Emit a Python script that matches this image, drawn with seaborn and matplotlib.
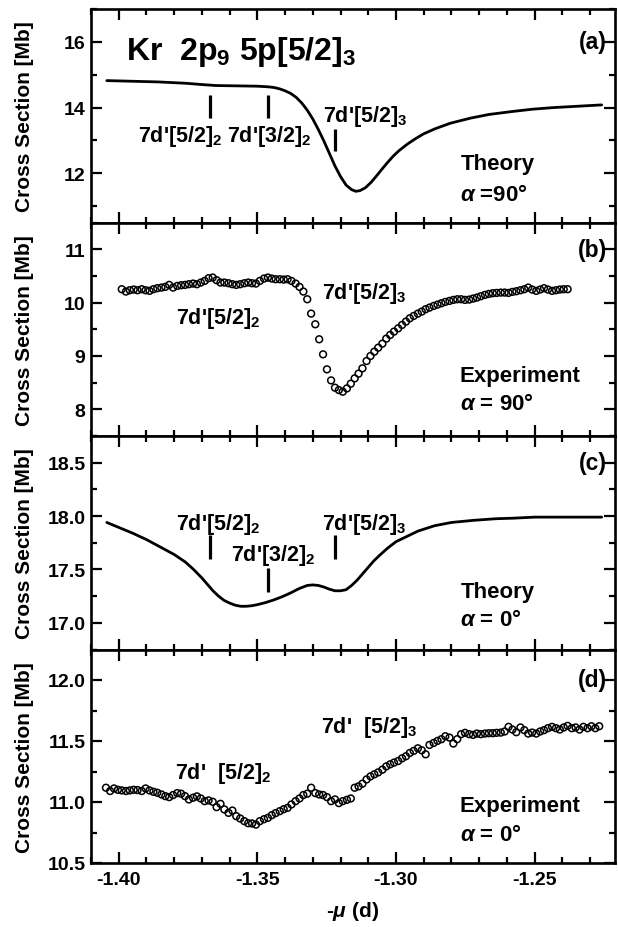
import matplotlib
matplotlib.use("Agg")
import matplotlib.pyplot as plt
from matplotlib.ticker import MultipleLocator
import seaborn as sns
import pandas as pd

# ---------------- data ----------------
# Theory, alpha = 90 deg (panel a)
x_a = [-1.4043, -1.3950, -1.3858, -1.3760, -1.3700, -1.3650, -1.3573, -1.3500, -1.3460,
       -1.3440, -1.3420, -1.3400, -1.3380, -1.3360, -1.3340, -1.3320, -1.3300, -1.3280,
       -1.3260, -1.3240, -1.3220, -1.3200, -1.3180, -1.3160, -1.3145, -1.3130, -1.3110,
       -1.3090, -1.3070, -1.3050, -1.3030, -1.3010, -1.2990, -1.2960, -1.2930, -1.2900,
       -1.2860, -1.2805, -1.2730, -1.2664, -1.2580, -1.2507, -1.2430, -1.2365, -1.2258]
y_a = [14.82, 14.80, 14.78, 14.74, 14.70, 14.67, 14.66, 14.65, 14.63,
       14.61, 14.57, 14.51, 14.43, 14.31, 14.14, 13.92, 13.65, 13.33,
       12.98, 12.60, 12.22, 11.90, 11.64, 11.50, 11.45, 11.47, 11.56,
       11.72, 11.92, 12.13, 12.33, 12.52, 12.68, 12.88, 13.05, 13.20,
       13.35, 13.52, 13.68, 13.79, 13.88, 13.95, 14.00, 14.03, 14.08]

# Theory, alpha = 0 deg (panel c)
x_c = [-1.4043, -1.3950, -1.3900, -1.3850, -1.3800, -1.3760, -1.3730, -1.3700, -1.3680,
       -1.3660, -1.3640, -1.3620, -1.3600, -1.3580, -1.3560, -1.3540, -1.3520, -1.3500,
       -1.3470, -1.3440, -1.3410, -1.3380, -1.3350, -1.3320, -1.3300, -1.3280, -1.3260,
       -1.3240, -1.3220, -1.3200, -1.3180, -1.3160, -1.3140, -1.3120, -1.3100, -1.3080,
       -1.3060, -1.3030, -1.3000, -1.2960, -1.2920, -1.2860, -1.2800, -1.2720, -1.2640,
       -1.2578, -1.2500, -1.2436, -1.2258]
y_c = [17.94, 17.84, 17.78, 17.71, 17.64, 17.57, 17.50, 17.42, 17.36,
       17.30, 17.25, 17.21, 17.185, 17.165, 17.155, 17.155, 17.16, 17.17,
       17.19, 17.215, 17.245, 17.28, 17.32, 17.35, 17.355, 17.35, 17.335,
       17.315, 17.30, 17.30, 17.31, 17.35, 17.40, 17.46, 17.52, 17.58,
       17.63, 17.70, 17.76, 17.81, 17.86, 17.91, 17.94, 17.96, 17.975,
       17.98, 17.99, 17.99, 17.99]

# Experiment, alpha = 90 deg (panel b)
x_b = [-1.3989, -1.3974, -1.3960, -1.3946, -1.3932, -1.3917, -1.3903, -1.3889, -1.3875, -1.3861,
       -1.3846, -1.3832, -1.3818, -1.3804, -1.3789, -1.3775, -1.3761, -1.3747, -1.3732, -1.3718,
       -1.3704, -1.3690, -1.3676, -1.3661, -1.3647, -1.3633, -1.3619, -1.3604, -1.3590, -1.3576,
       -1.3562, -1.3547, -1.3533, -1.3519, -1.3505, -1.3491, -1.3476, -1.3462, -1.3448, -1.3434,
       -1.3419, -1.3405, -1.3391, -1.3377, -1.3362, -1.3348, -1.3334, -1.3320, -1.3306, -1.3291,
       -1.3277, -1.3263, -1.3249, -1.3234, -1.3220, -1.3206, -1.3192, -1.3177, -1.3163, -1.3149,
       -1.3135, -1.3121, -1.3106, -1.3092, -1.3078, -1.3064, -1.3049, -1.3035, -1.3021, -1.3007,
       -1.2992, -1.2978, -1.2964, -1.2950, -1.2936, -1.2921, -1.2907, -1.2893, -1.2879, -1.2864,
       -1.2850, -1.2836, -1.2822, -1.2807, -1.2793, -1.2779, -1.2765, -1.2751, -1.2736, -1.2722,
       -1.2708, -1.2694, -1.2679, -1.2665, -1.2651, -1.2637, -1.2622, -1.2608, -1.2594, -1.2580,
       -1.2566, -1.2551, -1.2537, -1.2523, -1.2509, -1.2494, -1.2480, -1.2466, -1.2452, -1.2437,
       -1.2423, -1.2409, -1.2395, -1.2381]
y_b = [10.250, 10.206, 10.231, 10.244, 10.231, 10.250, 10.231, 10.219, 10.250, 10.269,
       10.281, 10.294, 10.331, 10.281, 10.312, 10.325, 10.331, 10.344, 10.356, 10.344,
       10.375, 10.406, 10.456, 10.469, 10.419, 10.375, 10.375, 10.362, 10.344, 10.331,
       10.344, 10.362, 10.375, 10.362, 10.356, 10.406, 10.450, 10.469, 10.450, 10.437,
       10.437, 10.431, 10.437, 10.406, 10.356, 10.294, 10.206, 10.062, 9.793, 9.593,
       9.312, 9.030, 8.749, 8.542, 8.405, 8.361, 8.330, 8.392, 8.480, 8.580,
       8.668, 8.768, 8.905, 8.999, 9.080, 9.155, 9.230, 9.324, 9.393, 9.456,
       9.518, 9.581, 9.643, 9.706, 9.750, 9.793, 9.831, 9.875, 9.906, 9.937,
       9.962, 9.987, 10.012, 10.031, 10.050, 10.062, 10.062, 10.050, 10.056, 10.075,
       10.094, 10.119, 10.144, 10.162, 10.175, 10.181, 10.187, 10.187, 10.181, 10.200,
       10.212, 10.231, 10.250, 10.281, 10.244, 10.219, 10.244, 10.269, 10.244, 10.219,
       10.231, 10.244, 10.250, 10.250]

# Experiment, alpha = 0 deg (panel d)
x_d = [-1.4046, -1.4031, -1.4017, -1.4003, -1.3989, -1.3974, -1.3960, -1.3946, -1.3932, -1.3917,
       -1.3903, -1.3889, -1.3875, -1.3861, -1.3846, -1.3832, -1.3818, -1.3804, -1.3789, -1.3775,
       -1.3761, -1.3747, -1.3732, -1.3718, -1.3704, -1.3690, -1.3676, -1.3661, -1.3647, -1.3633,
       -1.3619, -1.3604, -1.3590, -1.3576, -1.3562, -1.3547, -1.3533, -1.3519, -1.3505, -1.3491,
       -1.3476, -1.3462, -1.3448, -1.3434, -1.3419, -1.3405, -1.3391, -1.3377, -1.3362, -1.3348,
       -1.3334, -1.3320, -1.3306, -1.3291, -1.3277, -1.3263, -1.3249, -1.3234, -1.3220, -1.3206,
       -1.3192, -1.3177, -1.3163, -1.3149, -1.3135, -1.3121, -1.3106, -1.3092, -1.3078, -1.3064,
       -1.3049, -1.3035, -1.3021, -1.3007, -1.2992, -1.2978, -1.2964, -1.2950, -1.2936, -1.2921,
       -1.2907, -1.2893, -1.2879, -1.2864, -1.2850, -1.2836, -1.2822, -1.2807, -1.2793, -1.2779,
       -1.2765, -1.2751, -1.2736, -1.2722, -1.2708, -1.2694, -1.2679, -1.2665, -1.2651, -1.2637,
       -1.2622, -1.2608, -1.2594, -1.2580, -1.2566, -1.2551, -1.2537, -1.2523, -1.2509, -1.2494,
       -1.2480, -1.2466, -1.2452, -1.2437, -1.2423, -1.2409, -1.2395, -1.2381, -1.2366, -1.2352,
       -1.2338, -1.2324, -1.2309, -1.2295, -1.2281, -1.2267]
y_d = [11.117, 11.090, 11.111, 11.100, 11.095, 11.090, 11.095, 11.100, 11.098, 11.090,
       11.111, 11.095, 11.084, 11.076, 11.062, 11.048, 11.040, 11.057, 11.073, 11.068,
       11.048, 11.021, 11.035, 11.046, 11.029, 11.007, 11.013, 11.002, 10.958, 10.985,
       10.939, 10.911, 10.930, 10.884, 10.865, 10.843, 10.826, 10.824, 10.815, 10.843,
       10.859, 10.870, 10.892, 10.909, 10.925, 10.941, 10.952, 10.980, 11.007, 11.029,
       11.057, 11.068, 11.117, 11.073, 11.062, 11.057, 11.040, 11.007, 11.021, 10.991,
       11.007, 11.018, 11.029, 11.117, 11.128, 11.150, 11.185, 11.210, 11.227, 11.243,
       11.265, 11.292, 11.309, 11.323, 11.336, 11.358, 11.375, 11.402, 11.419, 11.440,
       11.424, 11.391, 11.468, 11.484, 11.501, 11.515, 11.539, 11.528, 11.479, 11.515,
       11.556, 11.567, 11.556, 11.550, 11.561, 11.556, 11.561, 11.564, 11.564, 11.567,
       11.569, 11.578, 11.616, 11.594, 11.572, 11.611, 11.589, 11.561, 11.569, 11.561,
       11.578, 11.589, 11.605, 11.616, 11.605, 11.594, 11.611, 11.624, 11.605, 11.611,
       11.594, 11.616, 11.605, 11.621, 11.605, 11.621]

# resonance marker bars (position, low, high)
bars_a_x = [-1.3669, -1.3462, -1.3221]
bars_a_lo = [13.68, 13.68, 12.68]
bars_a_hi = [14.37, 14.37, 13.35]
bars_c_x = [-1.3669, -1.3462, -1.3221]
bars_c_lo = [17.60, 17.29, 17.60]
bars_c_hi = [17.82, 17.51, 17.82]

panel_tags = ["(a)", "(b)", "(c)", "(d)"]
ylims = [(10.5, 17.0), (7.5, 11.5), (16.75, 18.75), (10.5, 12.25)]
ymajor = [2.0, 1.0, 0.5, 0.5]
yminor = [1.0, 0.5, 0.25, 0.25]
tag_y = [16.0, 11.0, 18.5, 12.0]

# ---------------- style ----------------
sns.set_style("ticks")
plt.rcParams["font.family"] = ["Liberation Sans", "DejaVu Sans"]
plt.rcParams["font.weight"] = "bold"
plt.rcParams["axes.labelweight"] = "bold"
plt.rcParams["text.color"] = "black"
plt.rcParams["axes.labelcolor"] = "black"
plt.rcParams["xtick.color"] = "black"
plt.rcParams["ytick.color"] = "black"
plt.rcParams["mathtext.fontset"] = "custom"
plt.rcParams["mathtext.rm"] = "Liberation Sans:bold"
plt.rcParams["mathtext.bf"] = "Liberation Sans:bold"
plt.rcParams["mathtext.it"] = "Liberation Sans:italic"
plt.rcParams["axes.unicode_minus"] = False

fig = plt.figure(figsize=(6.18, 9.28), dpi=100)
L, W, H = 91 / 618, 524 / 618, 213.5 / 928
B0 = 64 / 928
axes = []
for i in range(4):
    ax = fig.add_axes([L, B0 + (3 - i) * H, W, H])
    axes.append(ax)

df_a = pd.DataFrame({"x": x_a, "y": y_a})
df_b = pd.DataFrame({"x": x_b, "y": y_b})
df_c = pd.DataFrame({"x": x_c, "y": y_c})
df_d = pd.DataFrame({"x": x_d, "y": y_d})

sns.lineplot(data=df_a, x="x", y="y", ax=axes[0], color="black", lw=2.0, sort=False)
sns.lineplot(data=df_c, x="x", y="y", ax=axes[2], color="black", lw=2.0, sort=False)
sns.scatterplot(data=df_b, x="x", y="y", ax=axes[1], marker="o", s=24,
                facecolors="none", edgecolor="black", linewidth=1.1)
sns.scatterplot(data=df_d, x="x", y="y", ax=axes[3], marker="o", s=24,
                facecolors="none", edgecolor="black", linewidth=1.1)

axes[0].vlines(bars_a_x, bars_a_lo, bars_a_hi, color="black", lw=2.3)
axes[2].vlines(bars_c_x, bars_c_lo, bars_c_hi, color="black", lw=2.3)

for i, ax in enumerate(axes):
    ax.set_xlim(-1.41, -1.221)
    ax.set_ylim(*ylims[i])
    ax.xaxis.set_major_locator(MultipleLocator(0.05))
    ax.xaxis.set_minor_locator(MultipleLocator(0.01))
    ax.yaxis.set_major_locator(MultipleLocator(ymajor[i]))
    ax.yaxis.set_minor_locator(MultipleLocator(yminor[i]))
    ax.tick_params(which="both", direction="in", top=True, right=True,
                   width=1.6, labelsize=14, colors="black")
    ax.tick_params(which="major", length=8)
    ax.tick_params(which="minor", length=4.5)
    ax.tick_params(axis="y", pad=4)
    ax.tick_params(axis="x", pad=6)
    for sp in ax.spines.values():
        sp.set_linewidth(1.9)
        sp.set_color("black")
    ax.set_ylabel("Cross Section [Mb]", fontsize=15, fontweight="bold", color="black")
    ax.yaxis.set_label_coords(-0.108, 0.5)
    ax.set_xlabel("")
    if i < 3:
        ax.tick_params(labelbottom=False)
    ax.text(-1.2238, tag_y[i], panel_tags[i], ha="right", va="center", fontsize=16.5,
            fontweight="bold", color="black")

axes[3].set_xlabel(r"-$\mu$ (d)", fontsize=15, fontweight="bold", color="black")
axes[3].xaxis.set_label_coords(0.5, -0.17)

fs = 15.5
fs2 = 16
# panel a
axes[0].text(-1.3974, 15.49, r"Kr  2p$_9$ 5p[5/2]$_3$", fontsize=23, ha="left", va="baseline")
axes[0].text(-1.3777, 12.99, r"7d'[5/2]$_2$", fontsize=fs, ha="center", va="baseline")
axes[0].text(-1.3457, 12.99, r"7d'[3/2]$_2$", fontsize=fs, ha="center", va="baseline")
axes[0].text(-1.3111, 13.60, r"7d'[5/2]$_3$", fontsize=fs, ha="center", va="baseline")
axes[0].text(-1.2765, 12.12, "Theory", fontsize=fs2, ha="left", va="baseline")
axes[0].text(-1.2770, 11.20, r"$\alpha$ =90°", fontsize=fs2, ha="left", va="baseline")
# panel b
axes[1].text(-1.3642, 9.625, r"7d'[5/2]$_2$", fontsize=fs, ha="center", va="baseline")
axes[1].text(-1.3116, 10.094, r"7d'[5/2]$_3$", fontsize=fs, ha="center", va="baseline")
axes[1].text(-1.2770, 8.53, "Experiment", fontsize=fs2, ha="left", va="baseline")
axes[1].text(-1.2770, 8.00, r"$\alpha$ = 90°", fontsize=fs2, ha="left", va="baseline")
# panel c
axes[2].text(-1.3642, 17.88, r"7d'[5/2]$_2$", fontsize=fs, ha="center", va="baseline")
axes[2].text(-1.3443, 17.59, r"7d'[3/2]$_2$", fontsize=fs, ha="center", va="baseline")
axes[2].text(-1.3116, 17.88, r"7d'[5/2]$_3$", fontsize=fs, ha="center", va="baseline")
axes[2].text(-1.2765, 17.24, "Theory", fontsize=fs2, ha="left", va="baseline")
axes[2].text(-1.2770, 16.98, r"$\alpha$ = 0°", fontsize=fs2, ha="left", va="baseline")
# panel d
axes[3].text(-1.3623, 11.20, r"7d'  [5/2]$_2$", fontsize=fs, ha="center", va="baseline")
axes[3].text(-1.3097, 11.57, r"7d'  [5/2]$_3$", fontsize=fs, ha="center", va="baseline")
axes[3].text(-1.2770, 10.93, "Experiment", fontsize=fs2, ha="left", va="baseline")
axes[3].text(-1.2770, 10.69, r"$\alpha$ = 0°", fontsize=fs2, ha="left", va="baseline")

fig.savefig("out.png", dpi=100)
